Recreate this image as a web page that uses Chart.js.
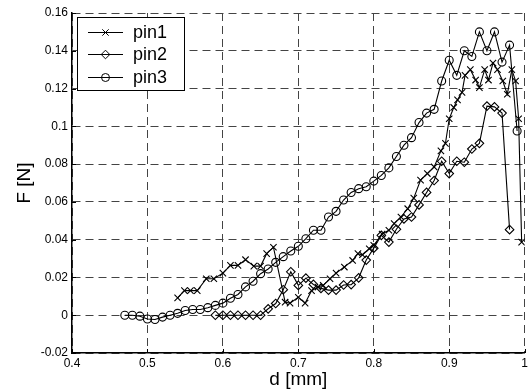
<!DOCTYPE html>
<html>
<head>
<meta charset="utf-8">
<script src="https://cdn.jsdelivr.net/npm/chart.js@4/dist/chart.umd.min.js"></script>
<style>
  html, body { margin: 0; padding: 0; background: #fff; }
  #wrap { width: 531px; height: 391px; }
</style>
</head>
<body>
<div id="wrap"><canvas id="chart" width="531" height="391"></canvas></div>
<script>
const pin1D = [0.54, 0.549, 0.557, 0.566, 0.578, 0.588, 0.60, 0.61, 0.62, 0.63, 0.641, 0.65, 0.658, 0.667,
    0.6825, 0.689, 0.70, 0.709, 0.7175, 0.726, 0.733, 0.742, 0.75, 0.761, 0.772, 0.779, 0.785, 0.794, 0.80,
    0.811, 0.82, 0.827, 0.836, 0.845, 0.853, 0.862, 0.871, 0.88, 0.889, 0.895, 0.90, 0.906, 0.911, 0.917,
    0.921, 0.928, 0.935, 0.940, 0.947, 0.952, 0.958, 0.964, 0.971, 0.977, 0.983, 0.988, 0.992, 0.996]
const pin1F = [0.0092, 0.013, 0.013, 0.013, 0.0193, 0.0193, 0.0223, 0.0264, 0.0264, 0.0294, 0.026, 0.026, 0.0326, 0.036,
    0.0069, 0.0064, 0.0095, 0.0064, 0.013, 0.0149, 0.0158, 0.0193, 0.0223, 0.0255, 0.029, 0.0326, 0.032, 0.0352, 0.037,
    0.043, 0.045, 0.0485, 0.052, 0.0564, 0.062, 0.0715, 0.075, 0.0785, 0.087, 0.091, 0.104, 0.110, 0.114, 0.118,
    0.127, 0.130, 0.1245, 0.1205, 0.130, 0.1245, 0.1335, 0.130, 0.124, 0.117, 0.130, 0.124, 0.104, 0.0387]

const pin2D = [0.59, 0.60, 0.61, 0.62, 0.63, 0.64, 0.65, 0.66, 0.67, 0.68, 0.69, 0.70, 0.71, 0.72, 0.73, 0.74,
    0.75, 0.76, 0.77, 0.78, 0.79, 0.80, 0.81, 0.82, 0.83, 0.84, 0.85, 0.86, 0.87, 0.88, 0.89, 0.90, 0.91, 0.92,
    0.93, 0.94, 0.95, 0.96, 0.97, 0.98]
const pin2F = [0, 0, 0, 0, 0, 0, 0, 0.0034, 0.0062, 0.0135, 0.023, 0.0158, 0.0196, 0.0163, 0.0142, 0.0133,
    0.0133, 0.016, 0.0162, 0.0198, 0.0292, 0.0355, 0.0423, 0.0387, 0.0455, 0.051, 0.052, 0.0584, 0.065, 0.0713,
    0.0815, 0.075, 0.0815, 0.081, 0.088, 0.091, 0.1107, 0.1103, 0.107, 0.0453]

const pin3D = [0.47, 0.48, 0.49, 0.50, 0.51, 0.52, 0.53, 0.54, 0.55, 0.56, 0.57, 0.58, 0.59, 0.60, 0.61, 0.62,
    0.63, 0.64, 0.65, 0.66, 0.67, 0.68, 0.69, 0.70, 0.71, 0.72, 0.73, 0.74, 0.75, 0.76, 0.77, 0.78, 0.79, 0.80,
    0.81, 0.82, 0.83, 0.84, 0.85, 0.86, 0.87, 0.88, 0.89, 0.90, 0.91, 0.92, 0.93, 0.94, 0.95, 0.96, 0.97, 0.98, 0.99]
const pin3F = [0, 0, -0.0005, -0.002, -0.0023, -0.001, 0, 0.001, 0.0025, 0.003, 0.003, 0.004, 0.0052, 0.0064, 0.009, 0.011,
    0.015, 0.018, 0.022, 0.0245, 0.028, 0.031, 0.034, 0.0365, 0.0405, 0.045, 0.045, 0.052, 0.055, 0.061, 0.065, 0.067, 0.068, 0.071,
    0.074, 0.078, 0.084, 0.09, 0.094, 0.102, 0.107, 0.109, 0.124, 0.135, 0.127, 0.14, 0.137, 0.15, 0.14, 0.15, 0.134, 0.143, 0.0975]

const xTickValues = [0.4, 0.5, 0.6, 0.7, 0.8, 0.9, 1.0]
const xTickLabels = ['0.4', '0.5', '0.6', '0.7', '0.8', '0.9', '1']
const yTickValues = [-0.02, 0, 0.02, 0.04, 0.06, 0.08, 0.1, 0.12, 0.14, 0.16]
const yTickLabels = ['-0.02', '0', '0.02', '0.04', '0.06', '0.08', '0.1', '0.12', '0.14', '0.16']

const FONT = "'Liberation Sans', Arial, Helvetica, sans-serif"
const toPoints = (xs, ys) => xs.map((x, i) => ({ x, y: ys[i] }))

// inward tick marks on the left and bottom axes
const innerTicks = {
    id: 'innerTicks',
    afterDatasetsDraw(chart) {
        const { ctx, chartArea: a, scales: { x, y } } = chart
        ctx.save()
        ctx.strokeStyle = '#000'
        ctx.lineWidth = 1
        ctx.beginPath()
        for (const v of yTickValues) {
            const py = Math.round(y.getPixelForValue(v)) + 0.5
            ctx.moveTo(a.left, py); ctx.lineTo(a.left + 4, py)
        }
        for (const v of xTickValues) {
            const px = Math.round(x.getPixelForValue(v)) + 0.5
            ctx.moveTo(px, a.bottom); ctx.lineTo(px, a.bottom - 4)
        }
        ctx.stroke()
        ctx.restore()
    }
}

// boxed legend in the upper left corner of the plot
const boxLegend = {
    id: 'boxLegend',
    afterDraw(chart) {
        const { ctx } = chart
        const bx = 77.5, by = 17.5, bw = 107, bh = 73
        const rows = [32, 54, 77]
        ctx.save()
        ctx.fillStyle = '#fff'
        ctx.fillRect(bx, by, bw, bh)
        ctx.strokeStyle = '#000'
        ctx.lineWidth = 1
        ctx.strokeRect(bx, by, bw, bh)
        chart.data.datasets.forEach((ds, i) => {
            const cy = rows[i]
            ctx.strokeStyle = '#000'
            ctx.lineWidth = 1
            ctx.beginPath()
            ctx.moveTo(88, cy + 0.5); ctx.lineTo(123, cy + 0.5)
            ctx.stroke()
            ctx.fillStyle = ds.pointBackgroundColor
            ctx.strokeStyle = '#000'
            Chart.helpers.drawPoint(ctx, { pointStyle: ds.pointStyle, radius: ds.pointRadius, borderWidth: 1, rotation: 0 }, 105.5, cy + 0.5)
            ctx.fillStyle = '#000'
            ctx.font = '18px ' + FONT
            ctx.textBaseline = 'middle'
            ctx.textAlign = 'left'
            ctx.fillText(ds.label, 133, cy + 1)
        })
        ctx.restore()
    }
}

const baseSet = {
    showLine: true,
    borderColor: '#000',
    borderWidth: 1.1,
    pointBorderColor: '#000',
    pointBorderWidth: 1.1,
    tension: 0
}

new Chart(document.getElementById('chart'), {
    type: 'scatter',
    data: {
        datasets: [
            { ...baseSet, label: 'pin1', data: toPoints(pin1D, pin1F), pointStyle: 'crossRot', pointRadius: 4.5, pointBackgroundColor: 'rgba(0,0,0,0)' },
            { ...baseSet, label: 'pin2', data: toPoints(pin2D, pin2F), pointStyle: 'rectRot', pointRadius: 4.3, pointBackgroundColor: 'rgba(0,0,0,0)' },
            { ...baseSet, label: 'pin3', data: toPoints(pin3D, pin3F), pointStyle: 'circle', pointRadius: 4, pointBackgroundColor: 'rgba(0,0,0,0)' }
        ]
    },
    options: {
        responsive: false,
        animation: false,
        layout: { padding: { top: 13, right: 3, left: 0, bottom: 0 } },
        plugins: {
            legend: { display: false },
            tooltip: { enabled: false }
        },
        scales: {
            x: {
                type: 'linear',
                min: 0.4,
                max: 1.0,
                afterBuildTicks: s => { s.ticks = xTickValues.map(v => ({ value: v })) },
                afterFit: s => { s.height = 38 },
                ticks: {
                    autoSkip: false,
                    maxRotation: 0,
                    padding: 3,
                    color: '#000',
                    font: { family: FONT, size: 12 },
                    callback: (v, i) => xTickLabels[i]
                },
                grid: { color: '#444', lineWidth: 1, drawTicks: false },
                border: { display: true, color: '#000', width: 1.5, dash: [8, 5] },
                title: { display: true, text: 'd [mm]', color: '#000', font: { family: FONT, size: 19, lineHeight: 1.2 }, padding: { top: 0, bottom: 0 } }
            },
            y: {
                type: 'linear',
                min: -0.02,
                max: 0.16,
                afterBuildTicks: s => { s.ticks = yTickValues.map(v => ({ value: v })) },
                afterFit: s => { s.width = 72 },
                ticks: {
                    autoSkip: false,
                    padding: 4,
                    color: '#000',
                    font: { family: FONT, size: 12 },
                    callback: (v, i) => yTickLabels[i]
                },
                grid: { color: '#444', lineWidth: 1, drawTicks: false },
                border: { display: true, color: '#000', width: 1.5, dash: [8, 5] },
                title: { display: true, text: 'F [N]', color: '#000', font: { family: FONT, size: 19, lineHeight: 1.2 }, padding: { top: 13, bottom: 0 } }
            }
        }
    },
    plugins: [innerTicks, boxLegend]
})
</script>
</body>
</html>
